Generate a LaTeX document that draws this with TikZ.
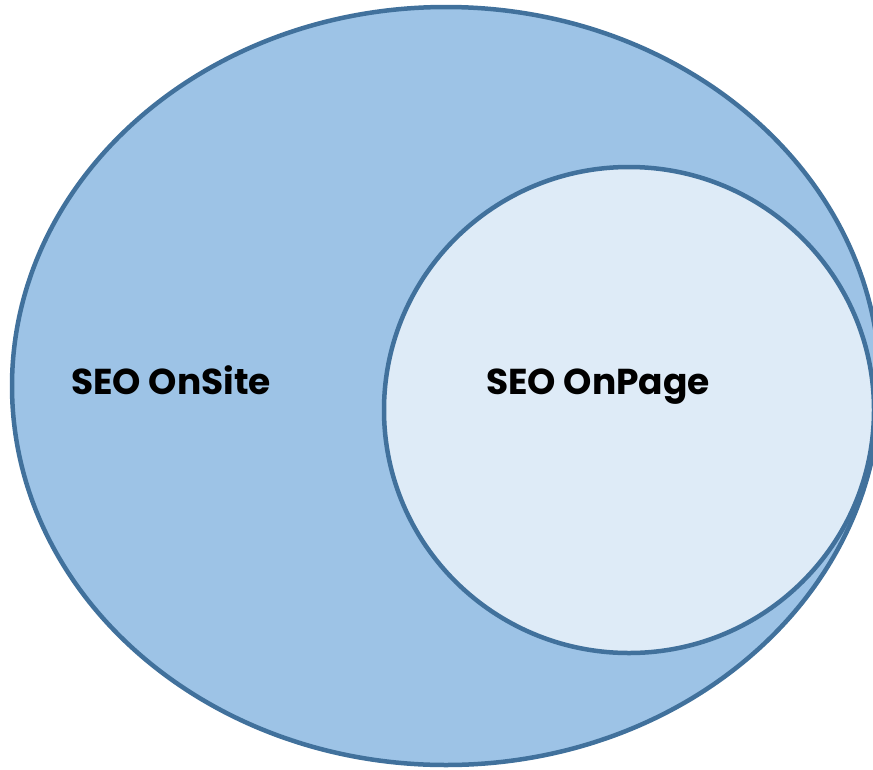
\documentclass[tikz,border=0pt]{standalone}
\usepackage{fontspec}
\setmainfont{Poppins}
\usetikzlibrary{shapes.geometric}
\definecolor{outerfill}{HTML}{9DC3E6}
\definecolor{innerfill}{HTML}{DEEBF7}
\definecolor{edge}{HTML}{41719C}
\begin{document}
\begin{tikzpicture}[x=1pt,y=1pt,
  blob/.style={ellipse, draw=edge, line width=4.5pt, inner sep=0pt},
  lbl/.style={font=\fontsize{36}{42}\selectfont\bfseries, text=black, anchor=base, inner sep=0pt}]
\useasboundingbox (0,0) rectangle (873,-769);
\clip (0,0) rectangle (873,-769);
\node[blob, fill=outerfill, minimum width=868pt, minimum height=758pt] (onsite) at (446,-386) {};
\node[blob, fill=innerfill, minimum width=490pt, minimum height=486pt] (onpage) at (629,-410) {};
\node[lbl] (tsite) at (171,-394) {SEO OnSite};
\node[lbl] (tpage) at (598,-394) {SEO OnPage};
\end{tikzpicture}
\end{document}
